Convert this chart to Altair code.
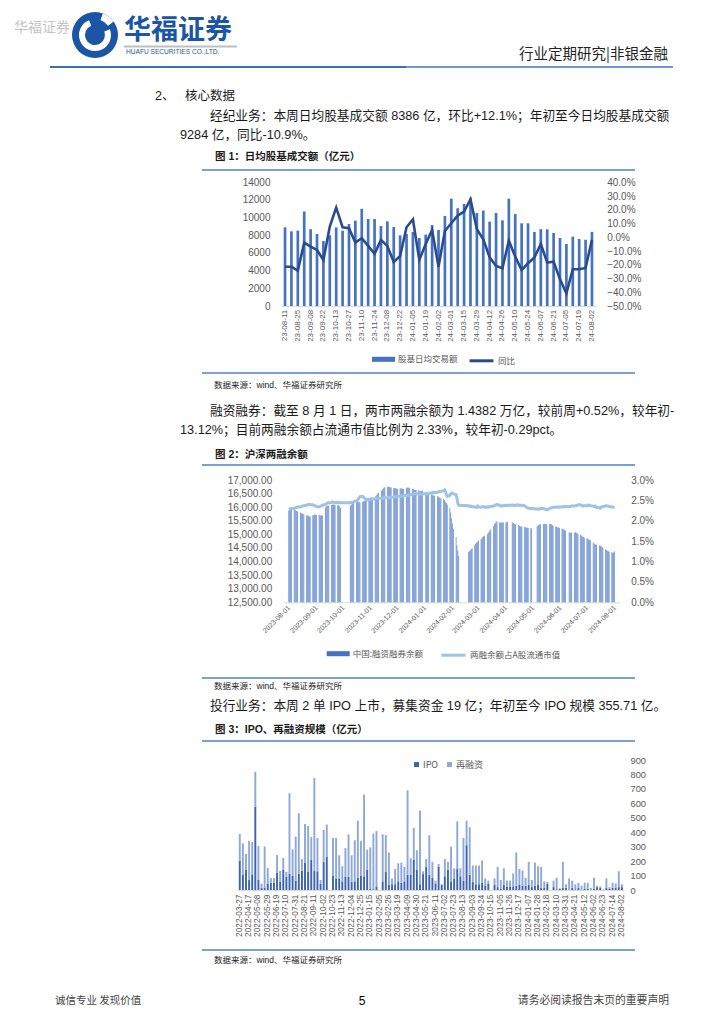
import altair as alt
import pandas as pd
from datetime import date, timedelta

CN = "Noto Sans CJK SC"
NUM = "Liberation Sans, Noto Sans CJK SC"
GREY = "#595959"
RULE_BLUE = "#4F81C8"
BODY = "#1A1A1A"

# ---------------- page text ----------------
HEAD_WATERMARK = "华福证券"
HEAD_LOGO = "华福证券"
HEAD_LOGO_EN = "HUAFU SECURITIES CO.,LTD."
HEAD_RIGHT = "行业定期研究|非银金融"
SEC_NO = "2、"
SEC_TITLE = "核心数据"
P1 = ["经纪业务：本周日均股基成交额 8386 亿，环比+12.1%；年初至今日均股基成交额",
      "9284 亿，同比-10.9%。"]
CAP1 = "图 1：日均股基成交额（亿元）"
SRC = "数据来源：wind、华福证券研究所"
P2 = ["融资融券：截至 8 月 1 日，两市两融余额为 1.4382 万亿，较前周+0.52%，较年初-",
      "13.12%；目前两融余额占流通市值比例为 2.33%，较年初-0.29pct。"]
CAP2 = "图 2：沪深两融余额"
P3 = "投行业务：本周 2 单 IPO 上市，募集资金 19 亿；年初至今 IPO 规模 355.71 亿。"
CAP3 = "图 3：IPO、再融资规模（亿元）"
FOOT_L = "诚信专业  发现价值"
FOOT_C = "5"
FOOT_R = "请务必阅读报告末页的重要声明"

# ---------------- figure 1 data ----------------
F1_SERIES = ["股基日均交易额", "同比"]
F1_WEEKS = ["23-08-11", "23-08-18", "23-08-25", "23-09-01", "23-09-08", "23-09-15", "23-09-22",
            "23-09-28", "23-10-13", "23-10-20", "23-10-27", "23-11-03", "23-11-10", "23-11-17",
            "23-11-24", "23-12-01", "23-12-08", "23-12-15", "23-12-22", "23-12-29", "24-01-05",
            "24-01-12", "24-01-19", "24-01-26", "24-02-02", "24-02-08", "24-03-01", "24-03-08",
            "24-03-15", "24-03-22", "24-03-29", "24-04-03", "24-04-12", "24-04-19", "24-04-26",
            "24-04-30", "24-05-10", "24-05-17", "24-05-24", "24-05-31", "24-06-07", "24-06-14",
            "24-06-21", "24-06-28", "24-07-05", "24-07-12", "24-07-19", "24-07-26", "24-08-02"]
F1_TURNOVER = [8900, 8450, 8530, 10700, 8700, 8150, 7350, 8000, 8900, 8530, 9280, 9660, 11000,
               9850, 9850, 9060, 9580, 8940, 8000, 8150, 8380, 7700, 8080, 9170, 8600, 10190,
               12150, 11060, 11550, 12230, 10530, 10800, 9550, 10530, 9700, 12150, 10400, 9360,
               9360, 8380, 8700, 8680, 8260, 7700, 7020, 7850, 7580, 7500, 8386]
F1_YOY_PCT = [-21.4, -21.4, -24.3, -3.9, -6.8, -9.2, -16.5, 7.8, 21.6, 7.3, 6.6, -3.9, -0.7,
              -6.3, -12.1, -1.9, -6.3, -18.0, -13.6, 7.3, 13.1, -16.5, -4.9, 5.3, -21.4, 4.6,
              10.2, 15.8, 18.7, 27.7, 5.8, -1.5, -14.6, -20.9, -22.6, -2.4, -14.1, -23.8, -18.9,
              -14.6, -4.9, -18.4, -17.7, -30.6, -40.8, -23.3, -23.3, -22.3, -1.9]
F1_YTICKS = [0, 2000, 4000, 6000, 8000, 10000, 12000, 14000]
F1_Y2TICKS = [-0.5, -0.4, -0.3, -0.2, -0.1, 0.0, 0.1, 0.2, 0.3, 0.4]

# ---------------- figure 2 data (Mon..Fri per week, None = no trading) ----------------
F2_SERIES = ["中国:融资融券余额", "两融余额占A股流通市值"]
F2_FIRST_MONDAY = date(2023, 7, 31)
F2_MARGIN = [
    [None, 15880, 15900, 15920, 15930],
    [15920, 15900, 15880, 15860, 15840],
    [15800, 15780, 15770, 15760, 15740],
    [15700, 15690, 15680, 15670, 15660],
    [15690, 15710, 15730, 15720, 15720],
    [15710, 15700, 15690, 15700, 15690],
    [15990, 16030, 16050, 16060, 16060],
    [16080, 16090, 16100, 16090, 16080],
    [16080, 16060, 16040, 15980, None],
    [None, None, None, None, None],
    [16050, 16080, 16110, 16140, 16160],
    [16170, 16190, 16200, 16190, 16170],
    [16200, 16220, 16230, 16240, 16250],
    [16260, 16280, 16300, 16320, 16340],
    [16380, 16420, 16460, 16500, 16530],
    [16600, 16650, 16700, 16720, 16730],
    [16740, 16750, 16740, 16730, 16720],
    [16710, 16700, 16700, 16690, 16680],
    [16690, 16700, 16690, 16680, 16670],
    [16700, 16720, 16730, 16710, 16700],
    [16680, 16660, 16640, 16630, 16640],
    [16620, 16600, 16590, 16600, 16610],
    [None, 16550, 16520, 16500, 16480],
    [16470, 16460, 16440, 16430, 16420],
    [16400, 16380, 16360, 16340, 16320],
    [16300, 16260, 16200, 16150, 16100],
    [15980, 15800, 15600, 15400, 15200],
    [14900, 14600, 14400, 14200, None],
    [None, None, None, None, None],
    [14350, 14380, 14420, 14450, 14500],
    [14600, 14650, 14700, 14740, 14780],
    [14820, 14860, 14900, 14930, 14950],
    [15000, 15050, 15100, 15150, 15180],
    [15300, 15380, 15420, 15460, 15470],
    [15450, 15440, 15430, 15450, 15440],
    [15440, 15450, 15460, None, None],
    [15450, 15430, 15400, 15380, 15370],
    [15340, 15320, 15300, 15290, 15280],
    [15270, 15260, 15250, 15240, 15230],
    [15230, 15220, None, None, None],
    [15300, 15330, 15350, 15360, 15370],
    [15370, 15380, 15390, 15380, 15370],
    [15380, 15390, 15370, 15340, 15310],
    [15300, 15280, 15260, 15250, 15240],
    [15220, 15200, 15180, 15160, 15140],
    [None, 15080, 15060, 15050, 15070],
    [15070, 15080, 15060, 15040, 15010],
    [14980, 14950, 14920, 14900, 14880],
    [14860, 14840, 14820, 14800, 14780],
    [14700, 14660, 14640, 14630, 14620],
    [14600, 14580, 14560, 14540, 14520],
    [14450, 14420, 14400, 14380, 14360],
    [14340, 14320, 14330, 14382, None],
]
F2_RATIO_PCT = [
    [None, 2.28, 2.29, 2.30, 2.30],
    [2.30, 2.31, 2.32, 2.33, 2.34],
    [2.34, 2.35, 2.36, 2.36, 2.37],
    [2.38, 2.39, 2.40, 2.40, 2.39],
    [2.39, 2.38, 2.37, 2.36, 2.35],
    [2.34, 2.35, 2.36, 2.37, 2.38],
    [2.40, 2.41, 2.43, 2.44, 2.44],
    [2.45, 2.46, 2.45, 2.44, 2.45],
    [2.45, 2.44, 2.45, 2.44, None],
    [None, None, None, None, None],
    [2.44, 2.45, 2.45, 2.46, 2.47],
    [2.48, 2.50, 2.53, 2.56, 2.59],
    [2.60, 2.58, 2.55, 2.53, 2.52],
    [2.53, 2.52, 2.53, 2.54, 2.53],
    [2.54, 2.55, 2.55, 2.56, 2.55],
    [2.55, 2.56, 2.55, 2.56, 2.57],
    [2.56, 2.57, 2.57, 2.58, 2.57],
    [2.58, 2.58, 2.59, 2.59, 2.60],
    [2.60, 2.61, 2.60, 2.61, 2.62],
    [2.62, 2.63, 2.62, 2.63, 2.64],
    [2.65, 2.66, 2.67, 2.66, 2.66],
    [2.66, 2.65, 2.66, 2.65, 2.66],
    [None, 2.67, 2.66, 2.66, 2.67],
    [2.68, 2.69, 2.68, 2.70, 2.69],
    [2.70, 2.71, 2.72, 2.71, 2.72],
    [2.74, 2.76, 2.72, 2.65, 2.60],
    [2.62, 2.66, 2.68, 2.67, 2.66],
    [2.64, 2.55, 2.42, 2.38, None],
    [None, None, None, None, None],
    [2.37, 2.36, 2.35, 2.36, 2.35],
    [2.34, 2.33, 2.33, 2.36, 2.34],
    [2.33, 2.34, 2.35, 2.34, 2.33],
    [2.34, 2.33, 2.34, 2.35, 2.35],
    [2.36, 2.37, 2.38, 2.39, 2.40],
    [2.38, 2.36, 2.36, 2.37, 2.37],
    [2.38, 2.37, 2.38, None, None],
    [2.38, 2.39, 2.38, 2.37, 2.38],
    [2.39, 2.38, 2.37, 2.38, 2.38],
    [2.37, 2.35, 2.33, 2.32, 2.31],
    [2.30, 2.30, None, None, None],
    [2.29, 2.29, 2.28, 2.29, 2.30],
    [2.30, 2.29, 2.28, 2.28, 2.27],
    [2.30, 2.31, 2.32, 2.32, 2.33],
    [2.33, 2.33, 2.34, 2.33, 2.34],
    [2.34, 2.34, 2.35, 2.34, 2.35],
    [None, 2.35, 2.35, 2.36, 2.36],
    [2.36, 2.37, 2.37, 2.38, 2.39],
    [2.39, 2.38, 2.37, 2.36, 2.37],
    [2.37, 2.38, 2.37, 2.38, 2.37],
    [2.36, 2.35, 2.36, 2.34, 2.33],
    [2.32, 2.31, 2.33, 2.34, 2.35],
    [2.36, 2.37, 2.36, 2.36, 2.35],
    [2.34, 2.34, 2.33, 2.33, None],
]
F2_YTICKS = [12500, 13000, 13500, 14000, 14500, 15000, 15500, 16000, 16500, 17000]
F2_Y2TICKS = [0.0, 0.005, 0.01, 0.015, 0.02, 0.025, 0.03]
F2_XTICKS = [(2023, m) for m in range(8, 13)] + [(2024, m) for m in range(1, 9)]

# ---------------- figure 3 data ----------------
F3_SERIES = ["IPO", "再融资"]
F3_CATS = [d.strftime("%Y-%m-%d") for d in pd.date_range("2022-03-27", periods=123, freq="7D")] + ["2024-08-02"]
F3_IPO = [203, 108, 139, 69, 108, 577, 69, 16, 16, 46, 51, 51, 120, 58, 139, 92, 111, 97, 65, 111,
          134, 189, 125, 208, 132, 129, 42, 196, 231, 0,
          100, 80, 80, 60, 90, 90, 55, 60, 85, 100, 95, 140, 10, 5, 25, 0, 60, 125, 35, 40,
          40, 60, 50, 60, 105, 105, 210, 140, 40, 110,
          160, 105, 85, 45, 160, 35, 95, 140, 60, 80, 145, 95, 65, 310, 105, 55, 40, 40, 50, 30,
          45, 0, 35, 20, 10, 35, 25, 25, 25, 30,
          35, 30, 30, 35, 20, 30, 35, 15, 15, 45, 0, 20, 5, 10, 15, 15, 0, 15, 5, 15,
          0, 10, 10, 0, 10, 20, 15, 0, 15, 10, 15, 15, 20, 20]
F3_REFI = [185, 215, 111, 271, 225, 241, 236, 28, 286, 106, 32, 32, 122, 74, 83, 33, 559, 185, 305, 420,
           81, 268, 318, 159, 644, 231, 27, 220, 222, 0,
           260, 280, 160, 105, 200, 295, 185, 285, 395, 240, 565, 140, 285, 385, 383, 0, 325, 255, 225, 40,
           105, 125, 140, 100, 585, 115, 220, 135, 510, 20,
           55, 275, 110, 20, 20, 5, 120, 55, 240, 70, 330, 55, 295, 170, 330, 115, 130, 130, 155, 50,
           20, 0, 45, 140, 60, 115, 40, 40, 90, 230,
           110, 105, 55, 160, 50, 160, 130, 145, 45, 10, 0, 45, 80, 0, 180, 25, 80, 50, 35, 35,
           30, 40, 40, 15, 75, 10, 10, 5, 65, 10, 35, 30, 110, 20]
F3_YTICKS = [0, 100, 200, 300, 400, 500, 600, 700, 800, 900]
assert len(F3_CATS) == len(F3_IPO) == len(F3_REFI)

# ---------------- helpers ----------------
ONE = pd.DataFrame({"k": [0]})
M = 8  # page margin


def txt(s, x, y, size=12.7, color=BODY, weight="normal", align="left", font=CN):
    return alt.Chart(ONE).mark_text(text=s, fontSize=size, color=color, fontWeight=weight,
                                    align=align, baseline="middle", font=font).encode(
        x=alt.value(x - M), y=alt.value(y - M))


def hline(x1, x2, y, color=RULE_BLUE, width=1.5):
    return alt.Chart(ONE).mark_rule(color=color, strokeWidth=width).encode(
        x=alt.value(x1 - M), x2=alt.value(x2 - M), y=alt.value(y - M))


def arc(cx, cy, r, r2, t1, t2, color):
    return alt.Chart(ONE).mark_arc(radius=r, radius2=r2, theta=t1, theta2=t2, color=color).encode(
        x=alt.value(cx - M), y=alt.value(cy - M))


def ax(orient, offset, pad, size, values, fmt=None, angle=0, domain=False, align=None, baseline=None):
    kw = dict(orient=orient, offset=offset, labelPadding=pad, labelFontSize=size, values=values,
              labelAngle=angle, domain=domain, domainColor="#D9D9D9", domainWidth=1, ticks=False,
              grid=False, title=None, labelColor=GREY, labelFont=NUM, labelOverlap=False,
              labelFlush=False)
    if fmt:
        kw["format"] = fmt
    if align:
        kw["labelAlign"] = align
    if baseline:
        kw["labelBaseline"] = baseline
    return alt.Axis(**kw)


RECT = "M-1,-0.22L1,-0.22L1,0.22L-1,0.22Z"


def leg(x, y, sym, size, stroke_w=0, fsize=8.5, colpad=10, offset=3):
    return alt.Legend(orient="none", legendX=x, legendY=y, title=None, direction="horizontal",
                      symbolType=sym, symbolSize=size, symbolStrokeWidth=stroke_w,
                      labelFontSize=fsize, labelColor=GREY, labelFont=CN, padding=0,
                      labelOffset=offset, columnPadding=colpad)


# ---------------- figure 1 ----------------
df1 = pd.DataFrame({"week": F1_WEEKS, "turnover": F1_TURNOVER,
                    "yoy": [v / 100 for v in F1_YOY_PCT]})
df1["s_bar"] = F1_SERIES[0]
df1["s_line"] = F1_SERIES[1]
x1 = alt.X("week:N", sort=None,
           scale=alt.Scale(range=[273, 588], paddingInner=0.58, paddingOuter=0.42),
           axis=ax("bottom", 298 - 1008, 3.3, 8, F1_WEEKS[::2], angle=-90, domain=True))
bars1 = alt.Chart(df1).mark_bar().encode(
    x=x1,
    y=alt.Y("turnover:Q", scale=alt.Scale(domain=[0, 14000], range=[298, 174.3], nice=False),
            axis=ax("left", -273, 11, 10, F1_YTICKS, fmt="d")),
    color=alt.Color("s_bar:N", scale=alt.Scale(domain=[F1_SERIES[0]], range=["#4472C4"]),
                    legend=leg(364, 339.8, RECT, 529)))
line1 = alt.Chart(df1).mark_line(strokeWidth=2.6).encode(
    x=x1,
    y=alt.Y("yoy:Q", scale=alt.Scale(domain=[-0.5, 0.4], range=[298, 174.3], nice=False, zero=False),
            axis=ax("right", -120, 10.7, 10, F1_Y2TICKS, fmt=".1%")),
    stroke=alt.Stroke("s_line:N", scale=alt.Scale(domain=[F1_SERIES[1]], range=["#2B4C8C"]),
                      legend=leg(460, 339.3, "stroke", 576, stroke_w=3)))
fig1 = alt.layer(bars1, line1).resolve_scale(y="independent")

# ---------------- figure 2 ----------------
rows2 = []
for w, (mw, rw) in enumerate(zip(F2_MARGIN, F2_RATIO_PCT)):
    for d in range(5):
        if mw[d] is not None and rw[d] is not None:
            day = F2_FIRST_MONDAY + timedelta(days=7 * w + d)
            rows2.append({"date": day.isoformat() + "T00:00:00", "margin": mw[d],
                          "ratio": rw[d] / 100})
df2 = pd.DataFrame(rows2)
df2["s_bar"] = F2_SERIES[0]
df2["s_line"] = F2_SERIES[1]
x2 = alt.X("date:T",
           scale=alt.Scale(domain=[alt.DateTime(year=2023, month=8, date=1),
                                   alt.DateTime(year=2024, month=8, date=1)],
                           range=[275.8, 611.5]),
           axis=ax("bottom", 594.3 - 1008, 4, 7,
                   [alt.DateTime(year=y, month=m, date=1) for y, m in F2_XTICKS],
                   fmt="%Y-%m-%d", angle=-45, domain=True, align="right", baseline="middle"))
bars2 = alt.Chart(df2).mark_bar(width=0.62).encode(
    x=x2,
    y=alt.Y("margin:Q", scale=alt.Scale(domain=[12500, 17000], range=[594.3, 472], nice=False, zero=False),
            axis=ax("left", -274.7, 11, 10, F2_YTICKS, fmt=",.2f")),
    y2=alt.datum(12500),
    color=alt.Color("s_bar:N", scale=alt.Scale(domain=[F2_SERIES[0]], range=["#4472C4"]),
                    legend=leg(318.7, 634.2, RECT, 529)))
line2 = alt.Chart(df2).mark_line(strokeWidth=3).encode(
    x=x2,
    y=alt.Y("ratio:Q", scale=alt.Scale(domain=[0, 0.03], range=[594.3, 472], nice=False),
            axis=ax("right", -95.5, 10.2, 10, F2_Y2TICKS, fmt=".1%")),
    stroke=alt.Stroke("s_line:N", scale=alt.Scale(domain=[F2_SERIES[1]], range=["#9DC3E6"]),
                      legend=leg(432, 633.7, "stroke", 576, stroke_w=3)))
fig2 = alt.layer(bars2, line2).resolve_scale(y="independent")

# ---------------- figure 3 ----------------
rows3 = []
for c, ipo, refi in zip(F3_CATS, F3_IPO, F3_REFI):
    rows3.append({"cat": c, "series": F3_SERIES[0], "v": ipo, "o": 0})
    rows3.append({"cat": c, "series": F3_SERIES[1], "v": refi, "o": 1})
df3 = pd.DataFrame(rows3)
fig3 = alt.Chart(df3).mark_bar().encode(
    x=alt.X("cat:N", sort=None,
            scale=alt.Scale(range=[229.7, 616], paddingInner=0.38, paddingOuter=0.36),
            axis=ax("bottom", 882 - 1008, 4, 8.3, F3_CATS[::3], angle=-90, domain=True)),
    y=alt.Y("v:Q", stack="zero", scale=alt.Scale(domain=[0, 900], range=[882, 752], nice=False),
            axis=ax("right", -92, 6, 9.3, F3_YTICKS)),
    color=alt.Color("series:N", sort=F3_SERIES,
                    scale=alt.Scale(domain=F3_SERIES, range=["#3D63B0", "#8FA8DA"]),
                    legend=leg(404, 751.8, "square", 25, fsize=9, colpad=6, offset=2)),
    order=alt.Order("o:Q"))

# ---------------- page chrome ----------------
chrome = [
    txt(HEAD_WATERMARK, 14, 28, size=14, color="#C4C4C4"),
    arc(95, 35, 23, 0, 0, 6.2832, "#1B55A6"),
    arc(95, 35, 16, 10, 1.2, 5.9, "#FFFFFF"),
    arc(95, 35, 23, 16, 0.35, 0.95, "#FFFFFF"),
    txt(HEAD_LOGO, 124, 31, size=27, color="#1B55A6", weight="bold"),
    hline(124, 237, 46.5, "#BFBFBF", 2),
    txt(HEAD_LOGO_EN, 126, 51.5, size=6.6, color="#1B55A6", font=NUM),
    txt(HEAD_RIGHT, 668, 55, size=14.5, color="#222222", align="right"),
    hline(50, 406, 67, "#3E6DB8", 2.2),
    hline(406, 673, 67, "#4472C4", 1.3),
    txt(SEC_NO, 155, 96, size=12.5, font=NUM),
    txt(SEC_TITLE, 185, 96, size=12.5),
    txt(P1[0], 210, 116, font=NUM),
    txt(P1[1], 180, 135, font=NUM),
    txt(CAP1, 215, 157, size=10.5, weight="bold", font=NUM),
    hline(202, 635, 170),
    hline(202, 635, 373),
    txt(SRC, 214, 385, size=8.5, color="#222222", font=NUM),
    txt(P2[0], 210, 411, font=NUM),
    txt(P2[1], 180, 430, font=NUM),
    txt(CAP2, 215, 455, size=10.5, weight="bold", font=NUM),
    hline(202, 635, 465),
    hline(202, 635, 678),
    txt(SRC, 214, 685.5, size=8.5, color="#222222", font=NUM),
    txt(P3, 210, 706, font=NUM),
    txt(CAP3, 215, 730, size=10.5, weight="bold", font=NUM),
    hline(202, 635, 741),
    hline(202, 635, 950),
    txt(SRC, 214, 960, size=8.5, color="#222222", font=NUM),
    txt(FOOT_L, 55, 1001, size=10.5, color="#444444"),
    txt(FOOT_C, 362, 1001, size=12, color="#000000", align="center", font=NUM),
    txt(FOOT_R, 669, 1001, size=10.8, color="#444444", align="right"),
]

chart = alt.layer(*chrome, fig1, fig2, fig3).resolve_scale(
    x="independent", y="independent", color="independent", stroke="independent"
).properties(
    width=708, height=1008, padding=0, autosize=alt.AutoSizeParams(type="none")
).configure_view(stroke=None)

chart.save("out.html", embed_options={"renderer": "svg", "actions": False})
